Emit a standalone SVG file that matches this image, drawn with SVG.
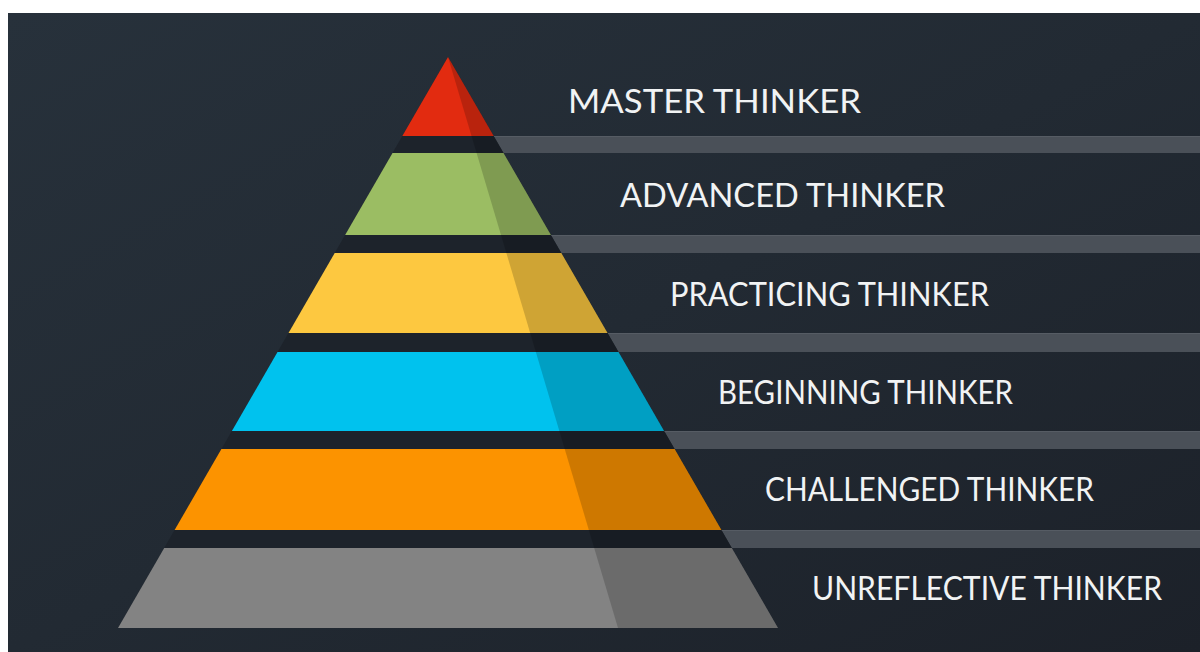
<svg xmlns="http://www.w3.org/2000/svg" width="1200" height="652" viewBox="0 0 1200 652">
  <defs>
    <linearGradient id="bg" x1="0" y1="0" x2="1" y2="1">
      <stop offset="0" stop-color="#27313b"/>
      <stop offset="0.5" stop-color="#222a33"/>
      <stop offset="1" stop-color="#1c2129"/>
    </linearGradient>
    <style>
      .ribbon { fill: #4a5058; }
      .ribbon-edge { stroke: #565c64; stroke-width: 1; }
      .shade { fill: #000000; fill-opacity: 0.18; }
      .label { font-family: "Lato", "Noto Sans", "Liberation Sans", sans-serif; font-size: 33px; fill: #f1f3f4; }
    </style>
  </defs>

  <!-- page margin and backdrop -->
  <rect x="0" y="0" width="1200" height="652" fill="#ffffff"/>
  <rect x="8" y="13" width="1192" height="639" fill="url(#bg)"/>

  <!-- grey bands running out to the right from each gap of the pyramid -->
  <g id="ribbons">
    <polygon class="ribbon" points="493.7,136 1200,136 1200,153 503.5,153"/>
    <polygon class="ribbon" points="550.9,235 1200,235 1200,253 561.3,253"/>
    <polygon class="ribbon" points="607.5,333 1200,333 1200,352 618.5,352"/>
    <polygon class="ribbon" points="664.1,431 1200,431 1200,449 674.6,449"/>
    <polygon class="ribbon" points="721.4,530 1200,530 1200,548 731.8,548"/>
    <line class="ribbon-edge" x1="494" y1="136.5" x2="1200" y2="136.5"/>
    <line class="ribbon-edge" x1="551" y1="235.5" x2="1200" y2="235.5"/>
    <line class="ribbon-edge" x1="608" y1="333.5" x2="1200" y2="333.5"/>
    <line class="ribbon-edge" x1="664" y1="431.5" x2="1200" y2="431.5"/>
    <line class="ribbon-edge" x1="721" y1="530.5" x2="1200" y2="530.5"/>
  </g>

  <!-- pyramid body (shows through the gaps between tiers) -->
  <polygon id="pyramid-base" points="448,57 778,628 118,628" fill="#1d232b"/>

  <g id="tier-master">
    <polygon points="448,57 493.7,136 402.3,136" fill="#e22b10"/>
    <text class="label" x="568" y="112.5" textLength="293" lengthAdjust="spacingAndGlyphs">MASTER THINKER</text>
  </g>
  <g id="tier-advanced">
    <polygon points="392.5,153 503.5,153 550.9,235 345.1,235" fill="#9bbd63"/>
    <text class="label" x="620" y="206.5" textLength="325" lengthAdjust="spacingAndGlyphs">ADVANCED THINKER</text>
  </g>
  <g id="tier-practicing">
    <polygon points="334.7,253 561.3,253 607.5,333 288.5,333" fill="#fdc840"/>
    <text class="label" x="670" y="305.5" textLength="319" lengthAdjust="spacingAndGlyphs">PRACTICING THINKER</text>
  </g>
  <g id="tier-beginning">
    <polygon points="277.5,352 618.5,352 664.1,431 231.9,431" fill="#00c2ee"/>
    <text class="label" x="718" y="404" textLength="295" lengthAdjust="spacingAndGlyphs">BEGINNING THINKER</text>
  </g>
  <g id="tier-challenged">
    <polygon points="221.4,449 674.6,449 721.4,530 174.6,530" fill="#fc9300"/>
    <text class="label" x="765" y="501" textLength="329" lengthAdjust="spacingAndGlyphs">CHALLENGED THINKER</text>
  </g>
  <g id="tier-unreflective">
    <polygon points="164.2,548 731.8,548 778,628 118,628" fill="#838383"/>
    <text class="label" x="812" y="600" textLength="350" lengthAdjust="spacingAndGlyphs">UNREFLECTIVE THINKER</text>
  </g>

  <!-- shadowed right face of the pyramid -->
  <polygon id="pyramid-shade" class="shade" points="448,57 778,628 618,628"/>
</svg>
